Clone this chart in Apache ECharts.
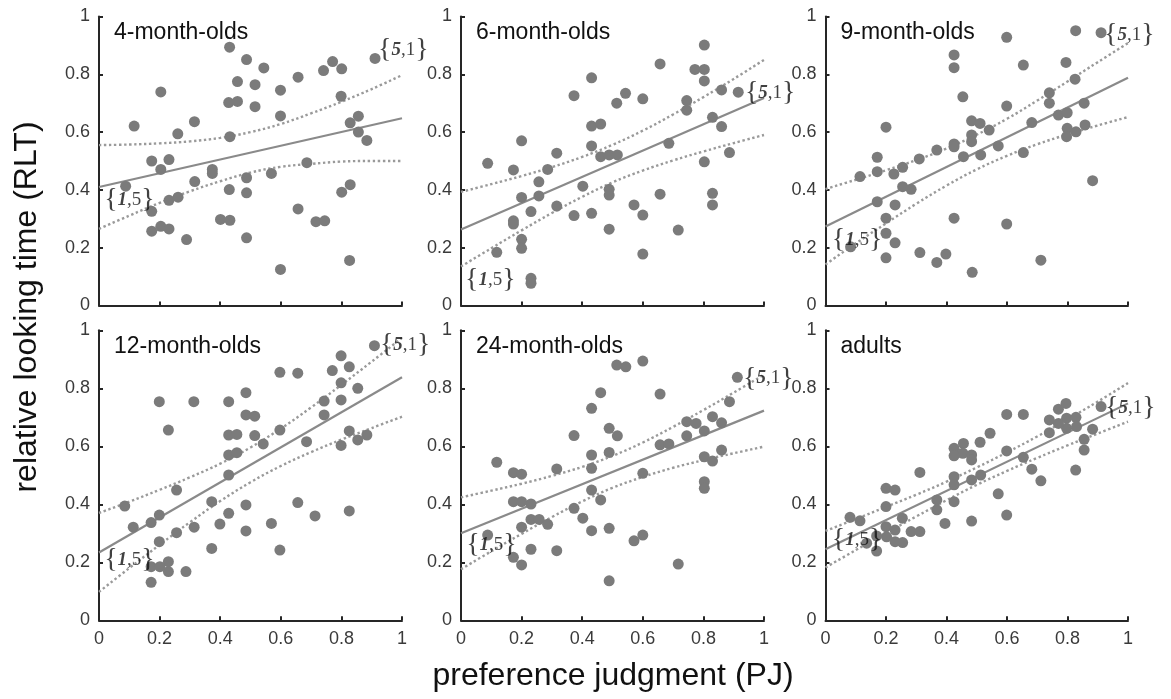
<!DOCTYPE html>
<html>
<head>
<meta charset="utf-8">
<script src="https://cdn.jsdelivr.net/npm/echarts@6/dist/echarts.min.js"></script>
<style>html,body{margin:0;padding:0;background:#fff}#c{width:1171px;height:699px}</style>
</head>
<body>
<div id="c"></div>
<script>
// ---------- data ----------
const panelTitles = ['4-month-olds','6-month-olds','9-month-olds','12-month-olds','24-month-olds','adults'];
const tickValues = [0, 0.2, 0.4, 0.6, 0.8, 1];
const bandX = [0,0.1,0.2,0.3,0.4,0.5,0.6,0.7,0.8,0.9,1];

const pts4m = [[0.431,0.894],[0.487,0.851],[0.544,0.822],[0.911,0.855],[0.771,0.844],[0.741,0.813],[0.801,0.819],[0.657,0.79],[0.204,0.739],[0.457,0.775],[0.515,0.764],[0.599,0.745],[0.428,0.702],[0.457,0.706],[0.515,0.688],[0.599,0.656],[0.799,0.724],[0.116,0.621],[0.315,0.636],[0.26,0.594],[0.432,0.584],[0.829,0.632],[0.856,0.655],[0.856,0.6],[0.884,0.571],[0.174,0.5],[0.231,0.505],[0.204,0.471],[0.686,0.494],[0.374,0.471],[0.374,0.457],[0.487,0.442],[0.569,0.457],[0.316,0.429],[0.088,0.413],[0.43,0.401],[0.487,0.39],[0.801,0.392],[0.829,0.418],[0.231,0.364],[0.261,0.375],[0.174,0.326],[0.401,0.298],[0.432,0.295],[0.657,0.334],[0.716,0.29],[0.745,0.293],[0.174,0.257],[0.204,0.274],[0.231,0.265],[0.289,0.228],[0.487,0.234],[0.599,0.125],[0.827,0.156]];
const fit4m = [0.41, 0.648];
const upper4m = [0.555,0.557,0.561,0.568,0.580,0.600,0.628,0.665,0.705,0.749,0.797];
const lower4m = [0.265,0.311,0.355,0.395,0.430,0.460,0.480,0.490,0.498,0.500,0.500];

const pts6m = [[0.803,0.901],[0.657,0.836],[0.772,0.817],[0.803,0.817],[0.803,0.777],[0.431,0.788],[0.373,0.726],[0.543,0.734],[0.514,0.7],[0.6,0.715],[0.86,0.746],[0.915,0.738],[0.745,0.709],[0.745,0.676],[0.431,0.621],[0.461,0.628],[0.83,0.651],[0.86,0.619],[0.2,0.57],[0.431,0.552],[0.686,0.561],[0.461,0.515],[0.489,0.521],[0.516,0.521],[0.886,0.529],[0.316,0.527],[0.088,0.492],[0.173,0.469],[0.286,0.471],[0.803,0.497],[0.257,0.428],[0.2,0.374],[0.257,0.379],[0.402,0.413],[0.489,0.402],[0.489,0.382],[0.657,0.385],[0.83,0.388],[0.83,0.348],[0.231,0.325],[0.316,0.344],[0.571,0.348],[0.6,0.313],[0.373,0.311],[0.431,0.319],[0.173,0.293],[0.173,0.282],[0.489,0.264],[0.717,0.261],[0.2,0.229],[0.2,0.198],[0.118,0.184],[0.6,0.178],[0.231,0.094],[0.231,0.077]];
const fit6m = [0.263, 0.718];
const upper6m = [0.393,0.420,0.448,0.479,0.514,0.556,0.605,0.661,0.721,0.784,0.850];
const lower6m = [0.135,0.198,0.260,0.320,0.376,0.426,0.467,0.502,0.533,0.562,0.590];

const pts9m = [[0.827,0.951],[0.911,0.944],[0.599,0.928],[0.425,0.867],[0.425,0.823],[0.654,0.832],[0.795,0.841],[0.825,0.783],[0.454,0.722],[0.74,0.736],[0.74,0.7],[0.599,0.69],[0.855,0.7],[0.77,0.659],[0.799,0.667],[0.2,0.617],[0.483,0.639],[0.511,0.63],[0.541,0.607],[0.682,0.633],[0.799,0.613],[0.828,0.601],[0.858,0.625],[0.797,0.584],[0.483,0.59],[0.483,0.567],[0.425,0.559],[0.425,0.549],[0.368,0.538],[0.571,0.552],[0.456,0.515],[0.513,0.521],[0.654,0.529],[0.31,0.507],[0.171,0.513],[0.171,0.463],[0.114,0.446],[0.226,0.455],[0.255,0.478],[0.255,0.411],[0.283,0.402],[0.883,0.432],[0.171,0.359],[0.23,0.348],[0.2,0.302],[0.425,0.302],[0.599,0.282],[0.2,0.25],[0.23,0.217],[0.083,0.203],[0.2,0.165],[0.312,0.183],[0.368,0.149],[0.398,0.178],[0.712,0.157],[0.485,0.115]];
const fit9m = [0.273, 0.788];
const upper9m = [0.403,0.435,0.468,0.503,0.543,0.591,0.646,0.709,0.775,0.842,0.908];
const lower9m = [0.142,0.215,0.284,0.352,0.415,0.471,0.518,0.558,0.592,0.623,0.652];

const pts12m = [[0.909,0.947],[0.799,0.912],[0.826,0.874],[0.77,0.861],[0.597,0.855],[0.656,0.852],[0.799,0.819],[0.854,0.8],[0.485,0.785],[0.199,0.754],[0.313,0.754],[0.428,0.754],[0.743,0.756],[0.799,0.76],[0.485,0.708],[0.514,0.704],[0.743,0.708],[0.229,0.656],[0.428,0.639],[0.455,0.641],[0.514,0.637],[0.597,0.656],[0.542,0.608],[0.685,0.616],[0.826,0.653],[0.884,0.639],[0.854,0.622],[0.799,0.603],[0.428,0.57],[0.455,0.578],[0.428,0.501],[0.256,0.449],[0.372,0.409],[0.485,0.398],[0.656,0.406],[0.713,0.36],[0.826,0.377],[0.085,0.394],[0.113,0.321],[0.172,0.337],[0.199,0.363],[0.314,0.321],[0.399,0.332],[0.428,0.369],[0.569,0.334],[0.485,0.308],[0.256,0.302],[0.199,0.271],[0.372,0.248],[0.597,0.242],[0.172,0.185],[0.229,0.202],[0.229,0.168],[0.287,0.168],[0.172,0.131],[0.201,0.185]];
const fit12m = [0.234, 0.838];
const upper12m = [0.370,0.409,0.450,0.493,0.540,0.596,0.661,0.734,0.812,0.892,0.974];
const lower12m = [0.098,0.180,0.260,0.338,0.411,0.476,0.532,0.580,0.623,0.663,0.702];

const pts24m = [[0.6,0.894],[0.514,0.88],[0.544,0.874],[0.912,0.838],[0.461,0.785],[0.657,0.78],[0.886,0.754],[0.431,0.731],[0.745,0.685],[0.776,0.679],[0.83,0.702],[0.86,0.681],[0.803,0.653],[0.489,0.662],[0.516,0.636],[0.373,0.637],[0.745,0.636],[0.657,0.605],[0.686,0.608],[0.431,0.57],[0.489,0.579],[0.803,0.564],[0.83,0.549],[0.86,0.587],[0.118,0.545],[0.173,0.509],[0.2,0.504],[0.316,0.522],[0.431,0.524],[0.6,0.507],[0.803,0.478],[0.803,0.455],[0.431,0.449],[0.461,0.415],[0.173,0.409],[0.2,0.409],[0.231,0.401],[0.373,0.386],[0.402,0.352],[0.231,0.348],[0.258,0.348],[0.286,0.331],[0.2,0.321],[0.088,0.294],[0.431,0.309],[0.489,0.317],[0.571,0.274],[0.6,0.294],[0.231,0.245],[0.316,0.24],[0.173,0.217],[0.2,0.191],[0.717,0.194],[0.489,0.136]];
const fit24m = [0.3, 0.723];
const upper24m = [0.424,0.447,0.471,0.498,0.529,0.567,0.613,0.667,0.725,0.785,0.847];
const lower24m = [0.176,0.238,0.298,0.356,0.410,0.457,0.494,0.526,0.552,0.576,0.599];

const ptsAdult = [[0.795,0.748],[0.77,0.728],[0.911,0.737],[0.599,0.71],[0.654,0.71],[0.74,0.691],[0.797,0.697],[0.828,0.7],[0.797,0.662],[0.83,0.668],[0.77,0.679],[0.74,0.647],[0.883,0.659],[0.544,0.645],[0.511,0.614],[0.456,0.61],[0.425,0.593],[0.454,0.576],[0.425,0.567],[0.483,0.57],[0.483,0.553],[0.599,0.584],[0.855,0.624],[0.855,0.587],[0.654,0.562],[0.682,0.521],[0.827,0.518],[0.312,0.51],[0.712,0.481],[0.425,0.495],[0.425,0.467],[0.483,0.484],[0.513,0.501],[0.2,0.455],[0.23,0.449],[0.571,0.436],[0.368,0.415],[0.368,0.381],[0.425,0.409],[0.2,0.392],[0.599,0.363],[0.081,0.355],[0.114,0.343],[0.254,0.352],[0.395,0.334],[0.483,0.342],[0.2,0.323],[0.23,0.311],[0.202,0.288],[0.283,0.306],[0.312,0.306],[0.169,0.291],[0.23,0.271],[0.255,0.268],[0.169,0.239],[0.136,0.266]];
const fitAdult = [0.245, 0.748];
const upperAdult = [0.308,0.349,0.391,0.433,0.478,0.527,0.579,0.634,0.693,0.754,0.818];
const lowerAdult = [0.182,0.242,0.301,0.358,0.414,0.467,0.515,0.560,0.603,0.644,0.685];

const panelPoints = [pts4m, pts6m, pts9m, pts12m, pts24m, ptsAdult];
const panelFits = [fit4m, fit6m, fit9m, fit12m, fit24m, fitAdult];
const panelUpper = [upper4m, upper6m, upper9m, upper12m, upper24m, upperAdult];
const panelLower = [lower4m, lower6m, lower9m, lower12m, lower24m, lowerAdult];

// ---------- layout / styles ----------
const gridBoxes = [
  {left: 99, top: 16.5, width: 303, height: 289},
  {left: 461, top: 16.5, width: 303, height: 289},
  {left: 825.5, top: 16.5, width: 302.5, height: 289},
  {left: 99, top: 330.3, width: 303, height: 290},
  {left: 461, top: 330.3, width: 303, height: 290},
  {left: 825.5, top: 330.3, width: 302.5, height: 290}
];
// label anchors ({1,5} and {5,1}) in data coordinates of each panel
const annoPos = [
  [[0.017,0.365],[0.921,0.884]],
  [[0.013,0.088],[0.937,0.735]],
  [[0.021,0.227],[0.921,0.936]],
  [[0.017,0.208],[0.927,0.949]],
  [[0.017,0.26],[0.931,0.835]],
  [[0.021,0.277],[0.924,0.732]]
];

const FONT = '"Liberation Sans", Arial, Helvetica, sans-serif';
const SERIF = '"Liberation Serif", "DejaVu Serif", serif';
const AXIS_COLOR = '#262626';

const grids = [], xAxes = [], yAxes = [], series = [], titles = [];
gridBoxes.forEach((g, i) => {
  grids.push(Object.assign({containLabel: false}, g));
  const bottomRow = i >= 3;
  const axisCommon = {
    type: 'value', min: 0, max: 1, interval: 0.2, gridIndex: i,
    axisLine: {show: true, onZero: false, lineStyle: {color: AXIS_COLOR, width: 2}},
    axisTick: {show: true, inside: true, length: 4, lineStyle: {color: AXIS_COLOR, width: 2}},
    splitLine: {show: false},
    axisLabel: {fontFamily: FONT, fontSize: 18, color: '#3a3a3a'}
  };
  xAxes.push(Object.assign({}, axisCommon, {
    axisLabel: Object.assign({}, axisCommon.axisLabel, {show: bottomRow, margin: 10})
  }));
  yAxes.push(Object.assign({}, axisCommon, {
    axisLabel: Object.assign({}, axisCommon.axisLabel, {margin: 9})
  }));
  titles.push({
    text: panelTitles[i], left: g.left + 15, top: g.top + 5, padding: 0,
    textStyle: {fontFamily: FONT, fontSize: 23, fontWeight: 'normal', color: '#111'}
  });

  const fitLine = panelFits[i];
  series.push({
    type: 'line', xAxisIndex: i, yAxisIndex: i, silent: true, symbol: 'none',
    data: [[0, fitLine[0]], [1, fitLine[1]]],
    lineStyle: {color: '#8a8a8a', width: 2.2}, z: 3
  });
  [panelUpper[i], panelLower[i]].forEach(band => {
    series.push({
      type: 'line', xAxisIndex: i, yAxisIndex: i, silent: true, symbol: 'none', smooth: 0.4,
      data: bandX.map((x, k) => [x, band[k]]),
      lineStyle: {color: '#9a9a9a', width: 2.4, type: [2.4, 2.6]}, z: 3
    });
  });
  series.push({
    type: 'scatter', xAxisIndex: i, yAxisIndex: i, silent: true,
    data: panelPoints[i], symbolSize: 11,
    itemStyle: {color: '#7b7b7b', opacity: 1}, z: 4
  });
  const anno = annoPos[i];
  series.push({
    type: 'scatter', xAxisIndex: i, yAxisIndex: i, silent: true, symbolSize: 0,
    data: [
      {value: anno[0], label: {formatter: '{c|{}{b|1}{a|,5}}'}},
      {value: anno[1], label: {formatter: '{c|{}{b|5}{a|,1}}'}}
    ],
    label: {
      show: true, position: 'right', distance: 0,
      fontFamily: SERIF, fontSize: 28, color: '#111',
      rich: {
        c: {fontFamily: SERIF, fontSize: 28, color: '#111'},
        a: {fontFamily: SERIF, fontSize: 19, color: '#111'},
        b: {fontFamily: SERIF, fontSize: 19, fontWeight: 'bold', fontStyle: 'italic', color: '#111'}
      }
    },
    z: 5
  });
});

const chart = echarts.init(document.getElementById('c'), null, {renderer: 'canvas'});
chart.setOption({
  animation: false,
  backgroundColor: '#fff',
  title: titles,
  grid: grids,
  xAxis: xAxes,
  yAxis: yAxes,
  series: series,
  graphic: [
    {type: 'text', x: 613, y: 676, z: 10,
     style: {text: 'preference judgment (PJ)', fontFamily: FONT, fontSize: 32, fill: '#111', align: 'center', verticalAlign: 'middle'}},
    {type: 'text', x: 27, y: 307, rotation: Math.PI / 2, z: 10,
     style: {text: 'relative looking time (RLT)', fontFamily: FONT, fontSize: 32, fill: '#111', align: 'center', verticalAlign: 'middle'}}
  ]
});
</script>
</body>
</html>
